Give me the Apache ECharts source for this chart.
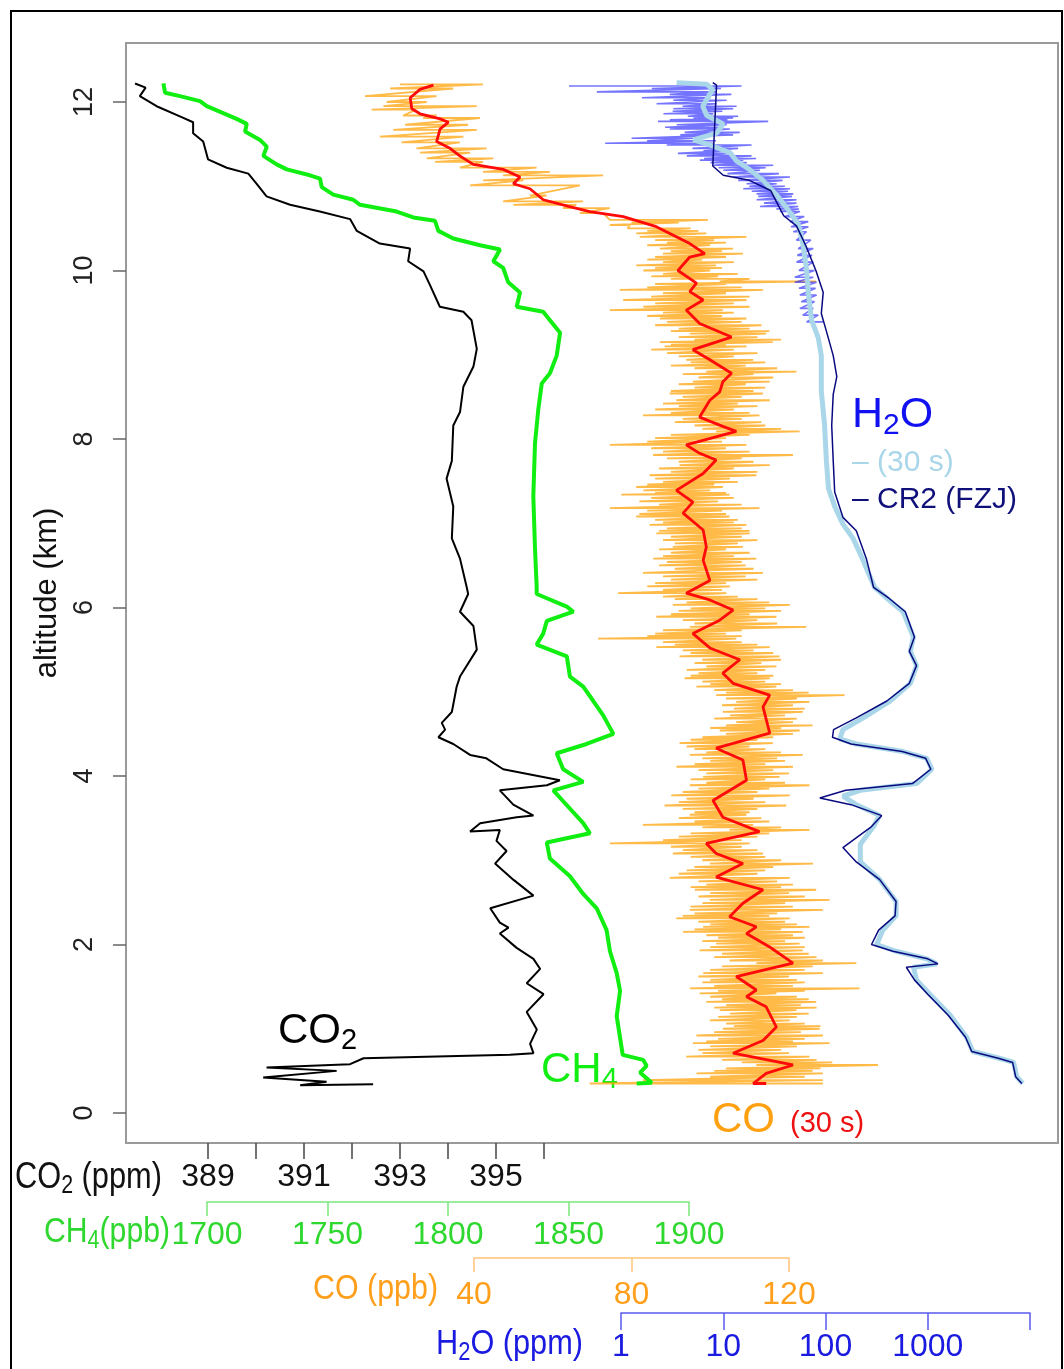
<!DOCTYPE html>
<html>
<head>
<meta charset="utf-8">
<script src="https://cdn.jsdelivr.net/npm/echarts@6/dist/echarts.min.js"></script>
<style>
html, body { margin: 0; padding: 0; background: #fff; }
#main { width: 1064px; height: 1369px; }
</style>
</head>
<body>
<div id="main"></div>
<script>
// profiles: [altitude km, value]
var co2Profile = [
  [12.22,387.48],[12.17,387.7],[12.07,387.58],[11.95,387.93],[11.82,388.45],[11.76,388.69],[11.63,388.69],
  [11.53,388.9],[11.32,389.0],[11.22,389.39],[11.15,389.84],[11.03,390.01],[10.88,390.22],[10.78,390.71],
  [10.70,391.33],[10.61,391.96],[10.47,392.1],[10.32,392.58],[10.26,393.21],[10.11,393.17],[9.99,393.49],
  [9.82,393.63],[9.57,393.83],[9.51,394.32],[9.41,394.49],[9.07,394.6],[8.86,394.53],[8.62,394.32],
  [8.32,394.25],[8.16,394.11],[7.74,394.08],[7.53,393.97],[7.2,394.11],[6.82,394.08],[6.58,394.25],
  [6.24,394.39],[6.16,394.42],[5.95,394.25],[5.78,394.53],[5.5,394.6],[5.18,394.25],[5.06,394.18],
  [4.76,394.08],[4.63,393.87],[4.55,393.94],[4.46,393.8],[4.38,394.11],[4.25,394.46],[4.21,394.8],
  [4.08,395.15],[3.95,396.33],[3.89,396.06],[3.83,395.08],[3.66,395.36],[3.53,395.78],[3.51,395.43],
  [3.44,394.67],[3.34,394.46],[3.36,395.08],[3.23,395.01],[3.11,395.22],[2.96,394.98],[2.77,395.36],
  [2.58,395.78],[2.43,394.88],[2.26,395.08],[2.2,395.26],[2.13,395.08],[1.96,395.43],[1.83,395.78],
  [1.71,395.92],[1.54,395.64],[1.41,395.99],[1.2,395.64],[0.99,395.85],[0.82,395.71],[0.71,395.78],
  [0.69,395.29],[0.65,392.24],[0.58,391.96],[0.54,390.22],[0.50,391.68],[0.42,390.15],[0.37,391.47],
  [0.33,390.92],[0.34,392.44]
];

var ch4Profile = [
  [12.22,1681.9],[12.11,1682.6],[12.07,1688.8],[12.01,1697.1],[11.95,1699.9],[11.8,1712.3],[11.74,1716.5],
  [11.65,1715.8],[11.55,1722],[11.47,1724.8],[11.36,1723.4],[11.26,1728.9],[11.2,1733.1],[11.13,1742.7],
  [11.09,1746.9],[10.99,1747.6],[10.9,1752.4],[10.84,1760.7],[10.78,1763.5],[10.7,1778.7],[10.63,1785.6],
  [10.59,1794.6],[10.47,1796],[10.38,1802.2],[10.3,1813.3],[10.25,1821.6],[10.11,1818.8],[10.03,1822.9],
  [9.86,1825],[9.74,1829.9],[9.57,1828.5],[9.51,1839.5],[9.41,1842.3],[9.26,1846.5],[8.99,1845.1],
  [8.78,1842.3],[8.66,1838.9],[8.36,1837.5],[7.95,1836.1],[7.32,1835.4],[6.7,1836.1],[6.24,1836.8],
  [6.16,1836.8],[6.01,1849.3],[5.95,1852],[5.84,1841],[5.69,1839.5],[5.56,1836.8],[5.42,1849.3],
  [5.18,1850.6],[5.06,1856.1],[4.89,1860.3],[4.72,1864.4],[4.5,1868.6],[4.38,1857.5],[4.27,1845.1],
  [4.08,1847.8],[3.93,1856.1],[3.83,1843.7],[3.7,1847.8],[3.44,1856.1],[3.32,1858.9],[3.21,1841],
  [3.02,1842.3],[2.81,1850.6],[2.6,1856.1],[2.43,1861.7],[2.17,1865.8],[1.92,1867.2],[1.66,1870],
  [1.45,1871.4],[1.15,1870],[0.69,1872.5],[0.63,1881],[0.56,1882.4],[0.48,1879.7],[0.36,1884.5],[0.35,1878.3]
];

// CO 1 Hz: [altitude km, low ppb, high ppb] of each excursion
var coRawRows = [
  [12.21,21.2,42.3],[12.16,18.7,34.7],[12.07,12.3,30.5],[12.00,17.8,28.0],[11.95,17.0,40.7],[11.91,14.0,25.4],
  [11.84,22.0,30.5],[11.81,27.1,41.5],[11.73,22.5,38.5],[11.67,19.5,40.7],[11.59,16.1,37.3],[11.52,21.6,36.4],
  [11.45,25.4,43.2],[11.40,26.3,39.0],[11.33,28.0,44.9],[11.29,30.1,42.3],[11.22,36.4,55.9],[11.17,42.3,59.3],
  [11.13,47.4,72.8],[11.07,42.3,52.5],[11.01,39.0,66.9],[10.89,54.2,58.4],[10.82,47.4,67.7],[10.78,50.0,66.0],
  [10.74,62.6,74.5],[10.68,66.9,72.8],
  [10.60,74.5,99.4],[10.57,80,92],[10.54,74.5,79.6],[10.50,79,95],[10.47,84,97],[10.44,81.2,99.0],[10.40,82.1,109.2],
  [10.36,86,101],[10.33,89,104],[10.30,84,100],[10.26,87.2,105.8],[10.23,90,103],[10.20,88.0,108.3],[10.16,86,104],
  [10.13,84,98],[10.10,88,106],[10.06,81.2,101.5],[10.03,86,103],[10.00,83,100],[9.96,88,107],[9.93,85,102],[9.90,90,110],
  [9.87,102.4,126.9],[9.84,86,104],[9.80,84,108],[9.77,77.0,113.4],[9.73,88,104],[9.69,85,110],[9.65,77.9,109.2],
  [9.61,86,106],[9.57,83,110],[9.53,74.5,103.2],[9.50,88,106],[9.46,84,103],[9.43,87.2,109.2],[9.39,89,108],
  [9.35,86,113],[9.31,92,110],[9.28,90,115],[9.25,94.8,114.2],[9.21,92,112],[9.18,96,118],[9.15,87.2,115.9],
  [9.12,90,104],[9.10,88.4,109.2],[9.06,85,106],[9.02,89,112],[8.98,92,106],
  [8.94,93.9,110.9],[8.91,95,114],[8.87,90,109],[8.84,96,117],[8.80,99.0,121.9],[8.77,93,111],[8.73,97,116],
  [8.68,95.6,115.1],[8.65,92,109],[8.61,96,114],[8.57,90,111],[8.54,89.7,113.4],[8.50,93,108],[8.46,91.4,115.1],
  [8.42,88,107],[8.39,92,112],[8.35,86,106],[8.31,90,110],[8.28,82.9,112.5],[8.24,93,108],[8.20,91,113],
  [8.16,96,114],[8.12,98,118],[8.09,101.5,122.7],[8.05,90,110],[8.01,86,104],[7.97,84,103],
  [7.93,74.5,109.2],[7.89,85,104],[7.85,88,110],[7.81,85.5,121.0],[7.77,89,108],[7.73,92,111],[7.69,92.2,115.1],
  [7.65,87,106],[7.61,90,112],[7.57,84.6,111.7],[7.53,86,105],[7.49,88,107],[7.46,84,101],[7.43,81.2,103.2],
  [7.39,83,100],[7.36,86,104],[7.34,77.4,104.9],[7.30,85,106],[7.26,82,102],[7.22,87,108],[7.18,74.5,112.5],
  [7.15,84,103],[7.11,82,104],[7.08,81.2,104.9],[7.04,86,107],[7.01,88,106],
  [6.98,84.6,109.2],[6.94,89,108],[6.91,87,110],[6.88,86.3,110.0],[6.84,90,108],[6.80,88,112],[6.76,91,107],
  [6.72,90.5,108.3],[6.69,87,104],[6.65,90,110],[6.61,88,106],[6.58,85.5,111.7],[6.54,89,108],[6.50,87,109],
  [6.46,91,111],[6.41,82.9,113.4],[6.37,88,109],[6.33,90,112],[6.29,86,104],[6.25,84,105],[6.21,88,103],
  [6.17,76.6,104.1],[6.13,88,107],[6.10,91,112],[6.06,94,115],
  [6.03,90.5,120.2],[5.99,95,114],[5.96,92,118],[5.92,90,110],[5.89,86.3,116.8],[5.85,93,112],[5.81,96,117],
  [5.77,94.8,124.4],[5.73,88,108],[5.69,86,104],[5.66,84,108],[5.63,71.5,106.6],[5.59,88,108],[5.56,91,112],
  [5.53,86.3,115.1],[5.49,93,111],[5.46,95,116],[5.42,92.2,117.6],[5.38,98,118],[5.34,96,113],[5.30,99.0,116.8],
  [5.26,94,114],[5.22,97,112],[5.19,95,116],[5.16,93.5,115.1],[5.12,98,114],[5.09,100,118],[5.06,96.5,116.8],
  [5.02,101,121],[4.99,104,125],
  [4.96,101.5,134.1],[4.92,104,122],[4.88,106.6,125.2],[4.84,103,121],[4.80,106,124],[4.76,103.2,123.5],
  [4.72,105,119],[4.68,101,122],[4.64,106.6,121.0],[4.60,104,126],[4.57,100,118],[4.54,102.4,122.7],
  [4.50,104,121],[4.46,98,116],[4.43,95,112],[4.39,92.2,115.9],[4.35,94,110],[4.32,96,114],[4.28,99,118],
  [4.25,94.8,123.5],[4.21,98,117],[4.18,100,119],[4.14,96,114],[4.11,91.4,121.0],[4.07,97,116],[4.03,99,120],
  [3.99,98.2,117.6],[3.96,95,114],[3.92,99,119],[3.89,94.8,125.2],[3.85,97,115],[3.81,93,112],[3.77,90.1,120.2],
  [3.73,94,111],[3.69,92,114],[3.65,88.4,119.3],[3.61,93,112],[3.57,96,110],[3.54,94.8,109.2],[3.50,92,113],
  [3.46,96,115],[3.42,82.9,110.9],[3.39,98,118],[3.36,104.9,125.2],[3.32,95,115],[3.28,92,112],[3.24,88,108],
  [3.20,74.5,110.0],[3.16,90,108],[3.12,93,112],[3.08,90.5,113.4],[3.04,95,114],[3.00,98,118],
  [2.96,99.9,126.1],[2.92,96,116],[2.88,94,114],[2.84,92,112],[2.79,89.7,120.2],[2.75,97,117],[2.71,99,121],
  [2.68,95,118],[2.65,96.1,126.9],[2.61,100,120],[2.57,97,124],[2.53,99.9,130.3],[2.49,98,119],[2.45,95,121],
  [2.41,94.8,128.6],[2.37,96,117],[2.34,93,115],[2.31,91.4,120.2],[2.27,97,119],[2.24,100,122],[2.21,98.2,125.2],
  [2.18,96,118],[2.15,93.1,123.5],[2.11,99,121],[2.08,102,124],[2.04,98,119],
  [2.01,101.5,122.7],[1.97,100,124],[1.93,97.3,123.5],[1.89,103,125],[1.85,101,127],[1.81,104.9,128.6],
  [1.78,111.7,137.1],[1.74,103,126],[1.70,100,124],[1.66,98.2,128.6],[1.62,97,120],[1.58,100,122],[1.55,98,124],
  [1.51,101,121],[1.48,94.8,137.9],[1.45,102,124],[1.42,97.3,116.8],[1.38,100,122],[1.35,103,125],[1.32,99.0,126.9],
  [1.28,104,123],[1.25,101,127],[1.22,102.4,121.9],[1.18,105,125],[1.14,102,122],[1.10,99.9,120.2],[1.06,104,124],
  [1.03,106,128],[1.00,103.2,127.8],[0.96,101,123],[0.92,96.5,128.6],[0.88,102,124],[0.85,99,121],[0.83,95.6,130.3],
  [0.79,100,122],[0.75,97,118],[0.71,98,120],[0.67,93.9,125.2],[0.63,103,127],[0.60,108,131],[0.57,111.7,142.6],
  [0.53,104,128],[0.50,101,126],[0.47,96.5,128.6],[0.43,100,124],[0.39,82.9,128.6],[0.35,69.4,128.6]
];

// CO 30 s mean
var co30sProfile = [
  [12.2,29.7],[12.15,26.3],[12.05,23.8],[11.92,24.2],[11.86,26.3],[11.8,31.4],[11.76,33.5],[11.68,31.4],
  [11.53,30.5],[11.45,33.9],[11.36,36.4],[11.26,39.8],[11.2,47.4],[11.11,51.7],[11.03,50],[10.97,54.2],
  [10.84,57.6],[10.76,64],[10.7,69.4],[10.64,77.9],[10.52,86.3],[10.32,94.8],[10.2,98.6],[10.16,94.8],
  [10.0,91.8],[9.85,96.5],[9.75,94.8],[9.65,98.2],[9.53,93.9],[9.37,97.3],[9.21,105.4],[9.06,95.6],
  [8.94,99.9],[8.78,105.4],[8.68,103.2],[8.56,102.4],[8.46,99.9],[8.26,97.3],[8.15,103.2],[8.09,106.6],
  [7.93,93.9],[7.83,97.3],[7.75,101.5],[7.59,98.2],[7.39,91.4],[7.25,95.6],[7.12,93.1],[6.92,98.2],
  [6.72,99],[6.56,98.2],[6.32,99.9],[6.17,93.9],[6.09,99.9],[5.97,105.8],[5.85,102.4],[5.69,95.6],
  [5.52,99.9],[5.38,107.5],[5.22,103.2],[5.10,105.8],[4.96,115.1],[4.82,113.4],[4.51,115.1],[4.33,101.5],
  [4.19,108.3],[3.95,109.2],[3.71,100.7],[3.51,103.2],[3.34,112.5],[3.2,99],[3.08,101.5],[2.96,108.3],
  [2.8,101.5],[2.65,113.4],[2.49,108.3],[2.33,104.9],[2.21,111.7],[2.13,109.2],[1.97,115.1],[1.78,121],
  [1.62,106.6],[1.46,111.7],[1.38,109.2],[1.26,114.2],[1.02,116.8],[0.86,113.4],[0.71,105.8],[0.57,121],
  [0.47,114.2],[0.35,110.9],[0.35,114.2]
];

// H2O 1 Hz upper part: [altitude km, low ppm, high ppm]
var h2oRawRows = [
  [12.19,0.31,15.1],[12.16,2.0,9.5],[12.12,0.58,8.6],[12.09,3.0,12.0],[12.05,1.6,7.5],[12.02,3.25,10.8],
  [11.98,2.23,8.6],[11.95,4.0,13.5],[11.92,3.25,12.5],[11.89,3.2,9.8],[11.86,2.6,8.0],[11.83,4.5,14],
  [11.81,5.1,12.5],[11.79,3.0,11],[11.77,2.3,27.5],[11.73,3.5,10.8],[11.70,2.7,9.0],[11.68,3.0,11.6],
  [11.64,4.2,14.5],[11.61,3.8,12.5],[11.57,1.27,5.1],[11.54,1.8,8.5],[11.51,0.70,8.0],[11.49,2.8,18.9],
  [11.45,5.0,14],[11.42,6.4,10.8],[11.39,3.6,12.5],[11.36,4.4,18.9],[11.33,6.5,21],[11.31,5.9,15.7],
  [11.28,7.5,17],[11.25,8.0,30.8],[11.22,9.0,26],[11.19,10,22.9],[11.15,11,35],[11.11,12.5,44.9],
  [11.07,14,38],[11.03,16.9,33.3],[11.00,18,40],[10.97,15.7,44.9],[10.94,19,43],[10.91,21.2,48.4],
  [10.88,22,47],[10.84,21.2,52.1],[10.80,25,52],[10.76,22.9,54.1],[10.73,33,55],[10.70,35.8,56.2],
  [10.64,40,62],[10.58,44.9,67.8],[10.52,46,68],[10.46,48.4,65.3],[10.36,52,72],[10.26,54.1,75.9],
  [10.18,53,74],[10.10,52.1,75.9],[10.0,55,78],[9.92,50,76],[9.86,50.1,81.8],[9.79,55,80],
  [9.71,56.2,81.8],[9.63,58,78],[9.55,56.2,75.9],[9.47,60,85],[9.39,65.3,95]
];

// H2O 30 s mean (ppm)
var h2o30sProfile = [
  [12.23,3.5],[12.21,6.9],[12.15,7.9],[11.95,6.3],[11.84,6.9],[11.74,10],[11.63,8.6],[11.55,5.1],[11.49,7.4],
  [11.4,11.6],[11.3,13.5],[11.2,18],[11.07,24.5],[10.9,33],[10.74,42],[10.55,54],[10.32,60],[10.03,65],
  [9.74,68],[9.41,73],[9.2,85],[8.99,91],[8.57,91],[8.16,98],[7.74,102],[7.41,107],[7.2,123],[6.99,148],
  [6.82,186],[6.61,224],[6.41,263],[6.24,302],[6.11,398],[5.95,575],[5.65,724],[5.48,676],[5.31,776],
  [5.1,676],[4.89,427],[4.69,234],[4.55,148],[4.44,138],[4.38,200],[4.29,575],[4.21,977],[4.08,1096],
  [3.91,776],[3.83,219],[3.76,148],[3.66,200],[3.53,339],[3.4,295],[3.19,219],[2.98,219],[2.77,339],
  [2.51,490],[2.34,490],[2.17,363],[2.0,316],[1.92,490],[1.83,977],[1.77,1230],[1.73,724],[1.58,776],
  [1.41,1047],[1.16,1660],[0.9,2399],[0.73,2754],[0.65,5012],[0.6,6918],[0.43,7413],[0.35,8511]
];

// H2O CR2 (FZJ) (ppm)
var h2oCr2Profile = [
  [12.23,7.9],[12.20,8.6],[11.24,7.9],[11.13,10],[11.07,18],[10.95,29],[10.65,39],[10.53,52],[10.28,65],
  [9.99,81],[9.74,95],[9.49,91],[9.28,102],[8.99,119],[8.74,129],[8.53,119],[8.16,115],[7.74,119],
  [7.37,123],[7.07,148],[6.91,200],[6.58,251],[6.24,295],[6.11,417],[5.95,603],[5.65,741],[5.48,661],
  [5.31,776],[5.1,661],[4.89,398],[4.69,200],[4.55,120],[4.46,117],[4.38,178],[4.29,562],[4.21,955],
  [4.08,1072],[3.91,708],[3.83,158],[3.74,88],[3.66,178],[3.53,355],[3.4,282],[3.15,148],[2.98,200],
  [2.77,339],[2.51,490],[2.34,479],[2.17,331],[2.0,282],[1.92,457],[1.83,1000],[1.77,1259],[1.73,617],
  [1.58,741],[1.41,1000],[1.16,1585],[0.9,2344],[0.73,2692],[0.65,4898],[0.6,6761],[0.43,7244],[0.35,8318]
];

// tick marks of the axes
var altTicks = [0, 2, 4, 6, 8, 10, 12];
var co2Ticks = [389, 390, 391, 392, 393, 394, 395, 396];
var co2TickLabels = [389, 391, 393, 395];
var ch4Ticks = [1700, 1750, 1800, 1850, 1900];
var coTicks = [40, 80, 120];
var h2oTicks = [1, 10, 100, 1000, 10000];
var h2oTickLabels = [1, 10, 100, 1000];

// layout (pixels)
var plotL = 126, plotR = 1058, plotT = 43, plotB = 1143;
var alt0Y = 1113, pxPerKm = 84.25;
var co2X = 208, co2Px = 48;        // 389 ppm at x=208, 48 px per ppm
var ch4X = 207, ch4Px = 2.41;      // 1700 ppb
var coX = 474, coPx = 3.9375;      // 40 ppb
var h2oX = 621, h2oPx = 102.25;    // 1 ppm, px per decade

var SANS = '"Liberation Sans", Arial, Helvetica, sans-serif';

var measureCtx = document.createElement('canvas').getContext('2d');
function textWidth(t, size) {
  measureCtx.font = size + 'px ' + SANS;
  return measureCtx.measureText(t).width;
}
function span(v0, x0, ppu) {
  return [v0 - (x0 - plotL) / ppu, v0 + (plotR - x0) / ppu];
}
function flip(profile) {
  return profile.map(function (p) { return [p[1], p[0]]; });
}
function zigzag(rows) {
  var out = [];
  rows.forEach(function (r) { out.push([r[1], r[0]], [r[2], r[0]]); });
  return out;
}
// text with subscripts: odd parts are subscripts; optional width squeezes it horizontally
function subLabel(x, y, parts, color, size, width) {
  var children = [], cx = 0;
  parts.forEach(function (p, i) {
    var sub = i % 2 === 1;
    var fs = sub ? Math.round(size * 0.7) : size;
    children.push({
      type: 'text', x: cx, y: sub ? Math.round(size * 0.39) : 0, silent: true,
      style: { text: p, fill: color, fontSize: fs, fontFamily: SANS, align: 'left', verticalAlign: 'top' }
    });
    cx += textWidth(p, fs);
  });
  return { type: 'group', x: x, y: y, scaleX: width ? width / cx : 1, silent: true, children: children };
}
function decoAxis(grid, type, min, max, ticks, labels, color, lineColor, showLine, margin, tickLen) {
  return {
    gridIndex: grid, type: type, min: min, max: max, position: 'bottom',
    axisLine: { show: showLine, onZero: false, lineStyle: { color: lineColor, width: 1.5 } },
    axisTick: { show: true, length: tickLen, customValues: ticks, lineStyle: { color: lineColor, width: 1.5 } },
    axisLabel: {
      customValues: labels, margin: margin, fontSize: 32, fontFamily: SANS, color: color,
      formatter: function (v) { return String(Math.round(v)); }
    },
    splitLine: { show: false }
  };
}

var co2Span = span(389, co2X, co2Px);
var ch4Span = span(1700, ch4X, ch4Px);
var coSpan = span(40, coX, coPx);
var h2oSpan = [Math.pow(10, -(h2oX - plotL) / h2oPx), Math.pow(10, (plotR - h2oX) / h2oPx)];
var altMin = -(plotB - alt0Y) / pxPerKm, altMax = (alt0Y - plotT) / pxPerKm;

var chart = echarts.init(document.getElementById('main'));
chart.setOption({
  animation: false,
  backgroundColor: '#fff',
  grid: [
    { left: plotL, top: plotT, width: plotR - plotL, height: plotB - plotT, show: true, borderColor: '#9a9a9a', borderWidth: 2 },
    { left: co2X, top: plotB - 1, width: 7 * co2Px, height: 1 },
    { left: ch4X, top: 1201, width: 200 * ch4Px, height: 1 },
    { left: coX, top: 1257, width: 80 * coPx, height: 1 },
    { left: h2oX, top: 1312, width: 4 * h2oPx, height: 1 }
  ],
  xAxis: [
    { gridIndex: 0, type: 'value', min: co2Span[0], max: co2Span[1], show: false },
    { gridIndex: 0, type: 'value', min: ch4Span[0], max: ch4Span[1], show: false },
    { gridIndex: 0, type: 'value', min: coSpan[0], max: coSpan[1], show: false },
    { gridIndex: 0, type: 'log', logBase: 10, min: h2oSpan[0], max: h2oSpan[1], show: false },
    decoAxis(1, 'value', 389, 396, co2Ticks, co2TickLabels, '#111', '#444', false, 18, 16),
    decoAxis(2, 'value', 1700, 1900, ch4Ticks, ch4Ticks, '#2ed82e', '#7be87b', true, 17, 14),
    decoAxis(3, 'value', 40, 120, coTicks, coTicks, '#ff9f1c', '#ffc47a', true, 21, 14),
    decoAxis(4, 'log', 1, 10000, h2oTicks, h2oTickLabels, '#1a1ae0', '#5a5aee', true, 18, 17)
  ],
  yAxis: [
    {
      gridIndex: 0, type: 'value', min: altMin, max: altMax,
      axisLine: { show: false, onZero: false },
      axisTick: { show: true, length: 13, customValues: altTicks, lineStyle: { color: '#666', width: 1.5 } },
      axisLabel: { customValues: altTicks, rotate: 90, margin: 28, fontSize: 27, fontFamily: SANS, color: '#222' },
      splitLine: { show: false },
      name: 'altitude (km)', nameLocation: 'middle', nameRotate: 90, nameGap: 40,
      nameTextStyle: { fontSize: 31, fontFamily: SANS, color: '#111' }
    },
    { gridIndex: 1, type: 'value', min: 0, max: 1, show: false },
    { gridIndex: 2, type: 'value', min: 0, max: 1, show: false },
    { gridIndex: 3, type: 'value', min: 0, max: 1, show: false },
    { gridIndex: 4, type: 'value', min: 0, max: 1, show: false }
  ],
  series: [
    { name: 'CO 1 Hz', type: 'line', xAxisIndex: 2, yAxisIndex: 0, data: zigzag(coRawRows), showSymbol: false,
      lineStyle: { color: 'rgba(255,160,0,0.72)', width: 1.8 } },
    { name: 'CO 30 s', type: 'line', xAxisIndex: 2, yAxisIndex: 0, data: flip(co30sProfile), showSymbol: false,
      lineStyle: { color: '#ff0a0a', width: 2.8 } },
    { name: 'CO2', type: 'line', xAxisIndex: 0, yAxisIndex: 0, data: flip(co2Profile), showSymbol: false,
      lineStyle: { color: '#000', width: 2 } },
    { name: 'CH4', type: 'line', xAxisIndex: 1, yAxisIndex: 0, data: flip(ch4Profile), showSymbol: false,
      lineStyle: { color: '#11ee11', width: 4 } },
    { name: 'H2O 1 Hz', type: 'line', xAxisIndex: 3, yAxisIndex: 0, data: zigzag(h2oRawRows), showSymbol: false,
      lineStyle: { color: 'rgba(30,30,255,0.62)', width: 1.6 } },
    { name: 'H2O 30 s', type: 'line', xAxisIndex: 3, yAxisIndex: 0, data: flip(h2o30sProfile), showSymbol: false,
      lineStyle: { color: '#a9d6e8', width: 5 } },
    { name: 'CR2 (FZJ)', type: 'line', xAxisIndex: 3, yAxisIndex: 0, data: flip(h2oCr2Profile), showSymbol: false,
      lineStyle: { color: '#0a0a80', width: 1.5 } }
  ],
  graphic: [
    { type: 'rect', silent: true, shape: { x: 11, y: 11, width: 1051, height: 1400 },
      style: { fill: 'none', stroke: '#000', lineWidth: 2 } },
    subLabel(278, 1010, ['CO', '2'], '#000', 42),
    subLabel(541, 1049, ['CH', '4'], '#11ee11', 42),
    subLabel(712, 1099, ['CO'], '#ffa010', 42),
    subLabel(790, 1109, ['(30 s)'], '#ee1111', 29),
    subLabel(852, 394, ['H', '2', 'O'], '#1010f0', 43),
    subLabel(852, 448, ['\u2013 (30 s)'], '#a9d6e8', 30),
    subLabel(852, 485, ['\u2013 CR2 (FZJ)'], '#10107a', 30),
    subLabel(15, 1160, ['CO', '2', ' (ppm)'], '#111', 36, 147),
    subLabel(44, 1215, ['CH', '4', '(ppb)'], '#2ed82e', 35, 126),
    subLabel(313, 1272, ['CO (ppb)'], '#ff9f1c', 35, 125),
    subLabel(436, 1327, ['H', '2', 'O (ppm)'], '#1a1ae0', 35, 147)
  ]
});
</script>
</body>
</html>
